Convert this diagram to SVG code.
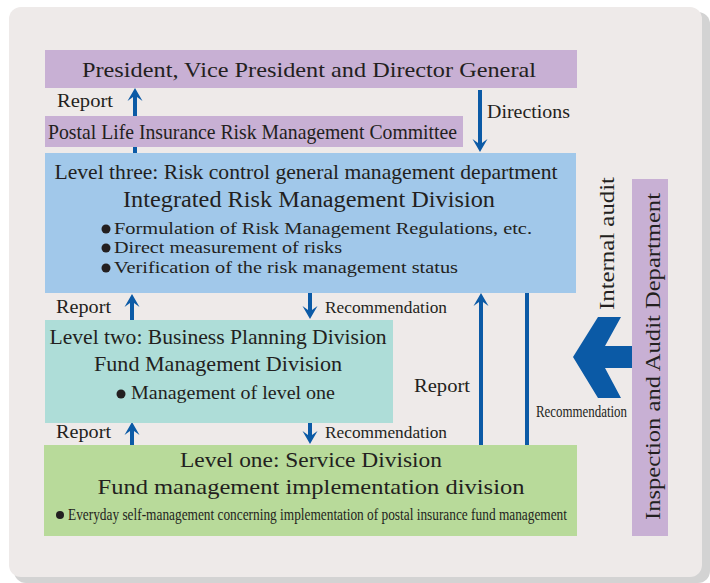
<svg xmlns="http://www.w3.org/2000/svg" width="710" height="583" viewBox="0 0 710 583">
  <style>
    .t { font-family: "Liberation Serif", "Times New Roman", serif; fill: #231f20; }
    .ln { stroke: #0b5aa6; stroke-width: 4; fill: none; }
    .bul { fill: #231f20; }
    .purple { fill: #c8b0d4; }
  </style>
  <defs>
    <marker id="ah" viewBox="0 -8 13 16" markerWidth="13" markerHeight="16" refX="6" refY="0" orient="auto" markerUnits="userSpaceOnUse">
      <path d="M13,0 L0,-7.5 L4,-2 L4,2 L0,7.5 Z" fill="#0b5aa6"/>
    </marker>
  </defs>

  <!-- panel with drop shadow -->
  <rect x="14" y="12" width="696" height="571" rx="12" fill="#d3d3d3"/>
  <rect x="9" y="7" width="693" height="570" rx="12" fill="#eeeae9"/>

  <!-- connectors -->
  <g id="connectors">
    <line class="ln" x1="135" y1="153" x2="135" y2="95" marker-end="url(#ah)"/>
    <line class="ln" x1="480" y1="90" x2="480" y2="145" marker-end="url(#ah)"/>
    <line class="ln" x1="132" y1="320" x2="132" y2="301" marker-end="url(#ah)"/>
    <line class="ln" x1="310" y1="293" x2="310" y2="312" marker-end="url(#ah)"/>
    <line class="ln" x1="132" y1="445" x2="132" y2="429" marker-end="url(#ah)"/>
    <line class="ln" x1="310" y1="423" x2="310" y2="437" marker-end="url(#ah)"/>
    <line class="ln" x1="481" y1="445" x2="481" y2="300" marker-end="url(#ah)"/>
    <line class="ln" x1="527" y1="293" x2="527" y2="445"/>
    <polygon points="573,357 598,317 621,317 605,346 632,346 632,368 605,368 621,398 598,398" fill="#0b5aa6"/>
    <text class="t" x="57" y="107" font-size="18" textLength="56" lengthAdjust="spacingAndGlyphs">Report</text>
    <text class="t" x="487" y="118" font-size="18" textLength="83" lengthAdjust="spacingAndGlyphs">Directions</text>
    <text class="t" x="56" y="313" font-size="18" textLength="55" lengthAdjust="spacingAndGlyphs">Report</text>
    <text class="t" x="325" y="313" font-size="17" textLength="122" lengthAdjust="spacingAndGlyphs">Recommendation</text>
    <text class="t" x="56" y="438" font-size="18" textLength="55" lengthAdjust="spacingAndGlyphs">Report</text>
    <text class="t" x="325" y="438" font-size="17" textLength="122" lengthAdjust="spacingAndGlyphs">Recommendation</text>
    <text class="t" x="414" y="392" font-size="19" textLength="56" lengthAdjust="spacingAndGlyphs">Report</text>
    <text class="t" x="536" y="417" font-size="16" textLength="91" lengthAdjust="spacingAndGlyphs">Recommendation</text>
    <text class="t" transform="translate(614,310) rotate(-90)" font-size="21" textLength="133" lengthAdjust="spacingAndGlyphs">Internal audit</text>
  </g>

  <!-- top management -->
  <g id="president">
    <rect class="purple" x="45" y="50" width="532" height="38"/>
    <text class="t" x="309" y="77" font-size="22" text-anchor="middle" textLength="454" lengthAdjust="spacingAndGlyphs">President, Vice President and Director General</text>
  </g>

  <!-- committee -->
  <g id="committee">
    <rect class="purple" x="45" y="116" width="418" height="31"/>
    <text class="t" x="48" y="139" font-size="21" textLength="409" lengthAdjust="spacingAndGlyphs">Postal Life Insurance Risk Management Committee</text>
  </g>

  <!-- level three -->
  <g id="level-three">
    <rect x="45" y="153" width="531" height="140" fill="#a1c8ea"/>
    <text class="t" x="306" y="179" font-size="21" text-anchor="middle" textLength="503" lengthAdjust="spacingAndGlyphs">Level three: Risk control general management department</text>
    <text class="t" x="309" y="207" font-size="23" text-anchor="middle" textLength="372" lengthAdjust="spacingAndGlyphs">Integrated Risk Management Division</text>
    <circle class="bul" cx="106" cy="229" r="4.5"/>
    <circle class="bul" cx="106" cy="248" r="4.5"/>
    <circle class="bul" cx="106" cy="268" r="4.5"/>
    <text class="t" x="114" y="234" font-size="16.5" textLength="418" lengthAdjust="spacingAndGlyphs">Formulation of Risk Management Regulations, etc.</text>
    <text class="t" x="114" y="253" font-size="16.5" textLength="228" lengthAdjust="spacingAndGlyphs">Direct measurement of risks</text>
    <text class="t" x="114" y="273" font-size="16.5" textLength="344" lengthAdjust="spacingAndGlyphs">Verification of the risk management status</text>
  </g>

  <!-- level two -->
  <g id="level-two">
    <rect x="45" y="320" width="348" height="103" fill="#aeddd8"/>
    <text class="t" x="218" y="344" font-size="22" text-anchor="middle" textLength="337" lengthAdjust="spacingAndGlyphs">Level two: Business Planning Division</text>
    <text class="t" x="218" y="371" font-size="22" text-anchor="middle" textLength="248" lengthAdjust="spacingAndGlyphs">Fund Management Division</text>
    <circle class="bul" cx="121" cy="394" r="4.5"/>
    <text class="t" x="131" y="399" font-size="18.5" textLength="204" lengthAdjust="spacingAndGlyphs">Management of level one</text>
  </g>

  <!-- level one -->
  <g id="level-one">
    <rect x="44" y="445" width="533" height="91" fill="#b8da9a"/>
    <text class="t" x="311" y="467" font-size="22" text-anchor="middle" textLength="262" lengthAdjust="spacingAndGlyphs">Level one: Service Division</text>
    <text class="t" x="311" y="494" font-size="22" text-anchor="middle" textLength="427" lengthAdjust="spacingAndGlyphs">Fund management implementation division</text>
    <circle class="bul" cx="60" cy="515" r="4"/>
    <text class="t" x="68" y="520" font-size="16" textLength="499" lengthAdjust="spacingAndGlyphs">Everyday self-management concerning implementation of postal insurance fund management</text>
  </g>

  <!-- audit department -->
  <g id="inspection">
    <rect class="purple" x="632" y="179" width="36" height="357"/>
    <text class="t" transform="translate(660,520) rotate(-90)" font-size="22" textLength="327" lengthAdjust="spacingAndGlyphs">Inspection and Audit Department</text>
  </g>
</svg>
